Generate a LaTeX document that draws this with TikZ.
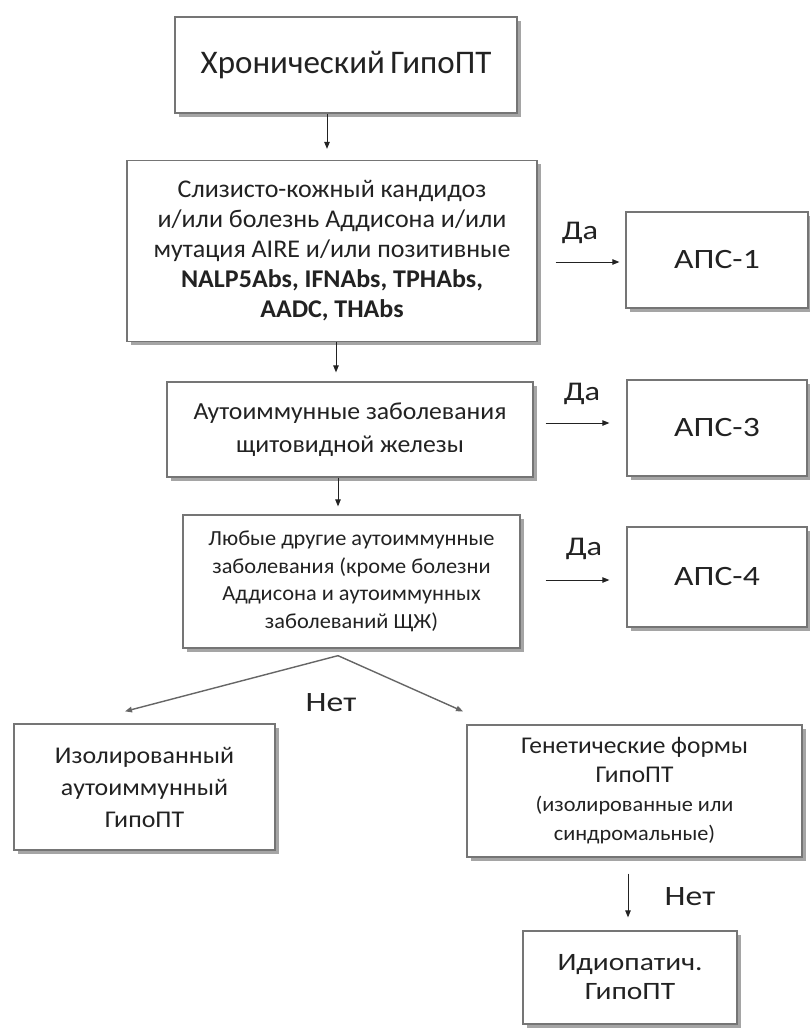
\documentclass[tikz,border=0pt]{standalone}
\usepackage{fontspec}
\setmainfont{Carlito}
\usetikzlibrary{arrows.meta,shadows}
\definecolor{boxline}{HTML}{757575}
\definecolor{shadowc}{HTML}{A5A5A5}
\definecolor{txt}{HTML}{222222}
\newcommand{\fx}[3]{\fontsize{#1}{#2}\selectfont\addfontfeatures{FakeStretch=#3}}
\tikzset{
  box/.style={draw=boxline, line width=1.3pt, fill=white, inner sep=0pt, align=center, text=txt,
    drop shadow={shadow xshift=3.5pt, shadow yshift=-3.5pt, fill=shadowc, opacity=1}},
  arr/.style={draw=txt, line width=0.9pt, -{Triangle[length=7pt,width=5.5pt]}},
  brarr/.style={line width=1.4pt, -{Triangle[length=7pt,width=5.5pt]}, color=black!60},
  lbl/.style={inner sep=0pt, text=txt, font=\fx{27}{30}{1.2}}
}
\begin{document}
\begin{tikzpicture}[x=1pt,y=-1pt]
\useasboundingbox[fill=white] (0,0) rectangle (810,1029);

\node[box, minimum width=342pt, minimum height=96pt, font=\fx{33}{38}{1.0}] (b1) at (346,65) {Хронический\,ГипоПТ};

\node[box, minimum width=410pt, minimum height=181pt, font=\fx{25.5}{30}{1.02}] (b2) at (332,251)
 {Слизисто-кожный кандидоз\\и/или болезнь Аддисона и/или\\мутация AIRE и/или позитивные\\\textbf{NALP5Abs, IFNAbs, TPHAbs,}\\\textbf{AADC, THAbs}};

\node[box, minimum width=366pt, minimum height=95pt, font=\fx{24.5}{33}{1.05}] (b3) at (350,429.5)
 {Аутоиммунные заболевания\\щитовидной железы};

\node[box, minimum width=337pt, minimum height=133pt, font=\fx{21.5}{27.5}{1.04}] (b4) at (351.5,581.5)
 {Любые другие аутоиммунные\\заболевания (кроме болезни\\Аддисона и аутоиммунных\\заболеваний ЩЖ)};

\node[box, minimum width=182pt, minimum height=96pt, font=\fx{28}{32}{1.2}] (a1) at (717,260) {АПС-1};
\node[box, minimum width=180pt, minimum height=96pt, font=\fx{28}{32}{1.2}] (a3) at (717,428) {АПС-3};
\node[box, minimum width=180pt, minimum height=100pt, font=\fx{28}{32}{1.2}] (a4) at (717,577) {АПС-4};

\node[box, minimum width=261pt, minimum height=126pt, font=\fx{24}{32}{1.08}] (L) at (144.5,787)
 {Изолированный\\аутоиммунный\\ГипоПТ};

\node[box, minimum width=335pt, minimum height=132pt, font=\fx{24}{29}{1.06}] (R) at (634.5,791)
 {Генетические формы\\ГипоПТ\\{\fx{21}{28}{1.06}(изолированные или}\\{\fx{21}{28}{1.06}синдромальные)}};

\node[box, minimum width=214pt, minimum height=93pt, font=\fx{25}{29}{1.18}] (I) at (630,977.5)
 {Идиопатич.\\ГипоПТ};

% vertical arrows
\draw[arr, shorten >=11pt] ([xshift=-19pt]b1.south) -- ([xshift=-5pt]b2.north);
\draw[arr, shorten >=9pt] ([xshift=4pt]b2.south) -- ([xshift=4pt]b2.south |- b3.north);
\draw[arr, shorten >=8pt] ([xshift=-12pt]b3.south) -- ([xshift=-12pt]b3.south |- b4.north);

% Yes arrows
\draw[arr, shorten <=18pt, shorten >=6pt] ([yshift=-11pt]b2.east) -- ([yshift=-11pt]b2.east -| a1.west);
\draw[arr, shorten <=12pt, shorten >=17pt] ([yshift=6.5pt]b3.east) -- ([yshift=6.5pt]b3.east -| a3.west);
\draw[arr, shorten <=25pt, shorten >=17pt] ([yshift=1.5pt]b4.east) -- ([yshift=1.5pt]b4.east -| a4.west);

\node[lbl] (y1) at (580,233) {Да};
\node[lbl] (y3) at (582,394) {Да};
\node[lbl] (y4) at (584,549) {Да};

% branches
\draw[brarr] ([xshift=-13.5pt,yshift=-7pt]b4.south) -- ([xshift=-19.5pt,yshift=12pt]L.north);
\draw[brarr] ([xshift=-13.5pt,yshift=-7pt]b4.south) -- ([xshift=-171.5pt,yshift=13pt]R.north);
\node[lbl, font=\fx{28}{30}{1.2}] (n1) at (331,703) {Нет};

\draw[arr, shorten <=16pt, shorten >=13pt] ([xshift=-6.5pt]R.south) -- ([xshift=-6.5pt]R.south |- I.north);
\node[lbl, font=\fx{28}{30}{1.2}] (n2) at (690,897) {Нет};
\end{tikzpicture}
\end{document}
